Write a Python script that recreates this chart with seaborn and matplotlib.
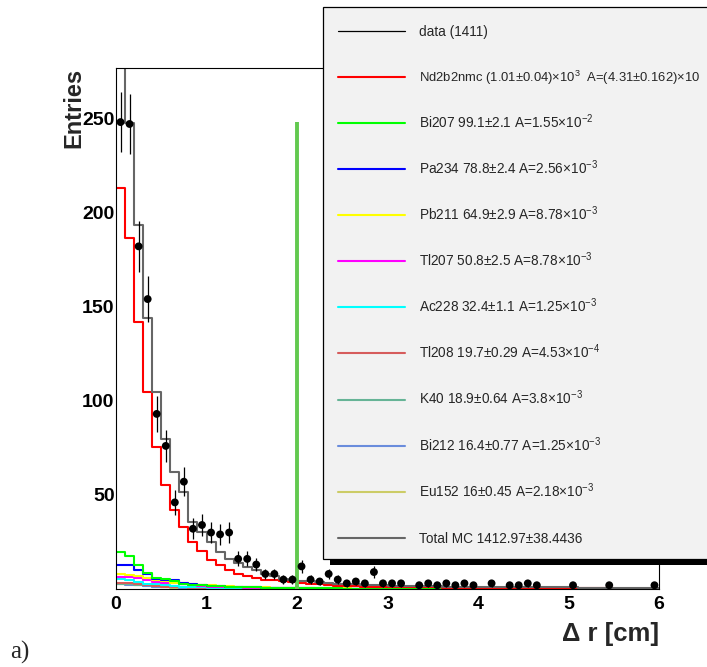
import numpy as np
import pandas as pd
import matplotlib
matplotlib.use("Agg")
import matplotlib.pyplot as plt
import seaborn as sns
from matplotlib.patches import Rectangle
from matplotlib.lines import Line2D
from matplotlib.ticker import MultipleLocator

# ---------------- data (bins of 0.1 cm from 0 to 6) ----------------
x_min, x_max, n_bins = 0.0, 6.0, 60

data_counts = [248, 247, 182, 154, 93, 76, 46, 57, 32, 34,
               30, 29, 30, 16, 16, 13, 8, 8, 5, 5,
               12, 5, 4, 8, 5, 3, 4, 3, 9, 3,
               3, 3, 0, 2, 3, 2, 3, 2, 3, 2,
               0, 3, 0, 2, 2, 3, 2, 0, 0, 0,
               2, 0, 0, 0, 2, 0, 0, 0, 0, 2]

total_mc = [285, 247.5, 193.4, 144, 104.8, 79.6, 61.9, 51.3, 35.6, 30.3,
            24.7, 19.7, 16.2, 14.0, 11.7, 9.9, 8.2, 6.8, 5.5, 4.6,
            4.4, 4.0, 3.6, 3.2, 2.9, 2.6, 2.4, 2.2, 2.0, 1.9,
            1.8, 1.7, 1.6, 1.5, 1.5, 1.4, 1.3, 1.3, 1.2, 1.2,
            1.1, 1.1, 1.0, 1.0, 1.0, 0.9, 0.9, 0.9, 0.8, 0.8,
            0.8, 0.7, 0.7, 0.7, 0.7, 0.6, 0.6, 0.6, 0.6, 0.5]

nd2b2nmc = [213, 186.4, 142, 104.8, 75.2, 55.2, 41.9, 32.7, 25.0, 20.2,
            15.6, 13.0, 10.3, 8.2, 6.8, 6.0, 5.0, 4.6, 4.3, 3.7,
            3.0, 2.8, 2.4, 2.0, 1.7, 1.5, 1.4, 1.3, 1.2, 1.1,
            1.0, 1.0, 0.9, 0.9, 0.8, 0.8, 0.7, 0.7, 0.7, 0.6,
            0.6, 0.6, 0.5, 0.5, 0.5, 0.5, 0.4, 0.4, 0.4, 0.4,
            0.3, 0.3, 0.3, 0.3, 0.3, 0.2, 0.2, 0.2, 0.2, 0.2]

bi207 = [19.7, 17.4, 13.0, 8.7, 6.0, 5.2, 4.1, 2.9, 2.3, 1.9,
         1.7, 1.5, 1.3, 1.1, 0.9, 0.8, 0.7, 0.6, 0.5, 0.5,
         0.4, 0.4, 0.3, 0.3, 0.3, 0.2, 0.2, 0.2, 0.2, 0.2,
         0.2, 0.2, 0.1, 0.1, 0.1, 0.1, 0.1, 0.1, 0.1, 0.1,
         0.1, 0.1, 0.1, 0.1, 0.1, 0.1, 0.1, 0.1, 0.1, 0.1,
         0.1, 0.1, 0.1, 0.1, 0.1, 0.1, 0.1, 0.1, 0.1, 0.1]

pa234 = [13.0, 13.0, 10.3, 8.2, 5.5, 4.6, 4.6, 3.2, 2.4, 2.0,
         1.7, 1.4, 1.2, 1.0, 0.9, 0.8, 0.7, 0.6, 0.5, 0.5,
         0.4, 0.4, 0.3, 0.3, 0.2, 0.2, 0.2, 0.2, 0.1, 0.1,
         0.1, 0.1, 0.1, 0.1, 0.0, 0.0, 0.0, 0.0, 0.0, 0.0,
         0.0, 0.0, 0.0, 0.0, 0.0, 0.0, 0.0, 0.0, 0.0, 0.0,
         0.0, 0.0, 0.0, 0.0, 0.0, 0.0, 0.0, 0.0, 0.0, 0.0]

pb211 = [8.2, 7.5, 6.9, 6.0, 4.8, 4.0, 3.4, 3.0, 2.6, 2.2,
         1.9, 1.6, 1.4, 1.2, 1.0, 0.9, 0.8, 0.7, 0.6, 0.5,
         0.5, 0.4, 0.4, 0.3, 0.3, 0.3, 0.2, 0.2, 0.2, 0.2,
         0.2, 0.1, 0.1, 0.1, 0.1, 0.1, 0.1, 0.1, 0.1, 0.1,
         0.1, 0.1, 0.1, 0.1, 0.1, 0.1, 0.1, 0.1, 0.1, 0.1,
         0.1, 0.1, 0.1, 0.1, 0.1, 0.0, 0.0, 0.0, 0.0, 0.0]

tl207 = [6.6, 6.2, 5.6, 4.7, 3.8, 3.0, 3.0, 2.6, 2.0, 1.6,
         1.3, 1.1, 0.9, 0.8, 0.7, 0.6, 0.5, 0.4, 0.4, 0.3,
         0.3, 0.3, 0.2, 0.2, 0.2, 0.2, 0.2, 0.2, 0.1, 0.1,
         0.1, 0.1, 0.1, 0.1, 0.1, 0.1, 0.1, 0.1, 0.1, 0.1,
         0.1, 0.1, 0.1, 0.1, 0.1, 0.1, 0.1, 0.1, 0.1, 0.1,
         0.0, 0.0, 0.0, 0.0, 0.0, 0.0, 0.0, 0.0, 0.0, 0.0]

ac228 = [5.5, 4.6, 3.7, 2.9, 2.4, 1.9, 1.5, 1.2, 1.0, 0.8,
         0.7, 0.6, 0.5, 0.4, 0.4, 0.3, 0.3, 0.3, 0.2, 0.2,
         0.2, 0.2, 0.1, 0.1, 0.1, 0.1, 0.1, 0.1, 0.1, 0.1,
         0.1, 0.1, 0.1, 0.1, 0.1, 0.1, 0.1, 0.1, 0.1, 0.1,
         0.1, 0.1, 0.1, 0.1, 0.1, 0.1, 0.0, 0.0, 0.0, 0.0,
         0.0, 0.0, 0.0, 0.0, 0.0, 0.0, 0.0, 0.0, 0.0, 0.0]

tl208 = [3.4, 3.0, 2.4, 1.9, 1.5, 1.2, 1.0, 0.8, 0.6, 0.5,
         0.4, 0.35, 0.3, 0.25, 0.2, 0.2, 0.1, 0.1, 0.1, 0.1,
         0.1, 0.1, 0.1, 0.1, 0.1, 0.1, 0.1, 0.1, 0.1, 0.1,
         0.1, 0.1, 0.1, 0.0, 0.0, 0.0, 0.0, 0.0, 0.0, 0.0,
         0.0, 0.0, 0.0, 0.0, 0.0, 0.0, 0.0, 0.0, 0.0, 0.0,
         0.0, 0.0, 0.0, 0.0, 0.0, 0.0, 0.0, 0.0, 0.0, 0.0]

k40 = [2.8, 2.7, 2.3, 1.9, 1.5, 1.2, 1.0, 0.8, 0.6, 0.5,
       0.4, 0.35, 0.3, 0.25, 0.2, 0.2, 0.1, 0.1, 0.1, 0.1,
       0.1, 0.1, 0.1, 0.1, 0.1, 0.1, 0.1, 0.1, 0.1, 0.1,
       0.1, 0.1, 0.1, 0.1, 0.1, 0.0, 0.0, 0.0, 0.0, 0.0,
       0.0, 0.0, 0.0, 0.0, 0.0, 0.0, 0.0, 0.0, 0.0, 0.0,
       0.0, 0.0, 0.0, 0.0, 0.0, 0.0, 0.0, 0.0, 0.0, 0.0]

bi212 = [2.4, 2.3, 2.0, 1.6, 1.3, 1.0, 0.8, 0.7, 0.5, 0.4,
         0.35, 0.3, 0.25, 0.2, 0.2, 0.1, 0.1, 0.1, 0.1, 0.1,
         0.1, 0.1, 0.1, 0.1, 0.1, 0.1, 0.1, 0.1, 0.1, 0.1,
         0.1, 0.1, 0.1, 0.1, 0.1, 0.1, 0.0, 0.0, 0.0, 0.0,
         0.0, 0.0, 0.0, 0.0, 0.0, 0.0, 0.0, 0.0, 0.0, 0.0,
         0.0, 0.0, 0.0, 0.0, 0.0, 0.0, 0.0, 0.0, 0.0, 0.0]

eu152 = [2.7, 2.6, 2.1, 1.6, 1.2, 0.9, 0.7, 0.55, 0.45, 0.35,
         0.3, 0.25, 0.2, 0.2, 0.15, 0.15, 0.1, 0.1, 0.1, 0.1,
         0.1, 0.1, 0.1, 0.1, 0.1, 0.1, 0.1, 0.1, 0.1, 0.1,
         0.1, 0.0, 0.0, 0.0, 0.0, 0.0, 0.0, 0.0, 0.0, 0.0,
         0.0, 0.0, 0.0, 0.0, 0.0, 0.0, 0.0, 0.0, 0.0, 0.0,
         0.0, 0.0, 0.0, 0.0, 0.0, 0.0, 0.0, 0.0, 0.0, 0.0]

cut_position = 2.0
cut_height = 248

legend_labels = [
    "data (1411)",
    "Nd2b2nmc (1.01\u00b10.04)\u00d710$^{3}$  A=(4.31\u00b10.162)\u00d710",
    "Bi207 99.1\u00b12.1 A=1.55\u00d710$^{-2}$",
    "Pa234 78.8\u00b12.4 A=2.56\u00d710$^{-3}$",
    "Pb211 64.9\u00b12.9 A=8.78\u00d710$^{-3}$",
    "Tl207 50.8\u00b12.5 A=8.78\u00d710$^{-3}$",
    "Ac228 32.4\u00b11.1 A=1.25\u00d710$^{-3}$",
    "Tl208 19.7\u00b10.29 A=4.53\u00d710$^{-4}$",
    "K40 18.9\u00b10.64 A=3.8\u00d710$^{-3}$",
    "Bi212 16.4\u00b10.77 A=1.25\u00d710$^{-3}$",
    "Eu152 16\u00b10.45 A=2.18\u00d710$^{-3}$",
    "Total MC 1412.97\u00b138.4436",
]
legend_colors = ["#000000", "#ff0000", "#00ff00", "#0000ff", "#ffff00", "#ff00ff",
                 "#00ffff", "#d65c5c", "#66b496", "#6a8cdc", "#cccc66", "#666666"]

x_ticks = [0, 1, 2, 3, 4, 5, 6]
y_ticks = [50, 100, 150, 200, 250]

# ---------------- style ----------------
sns.set_style("white")
plt.rcParams["font.family"] = ["Liberation Sans", "DejaVu Sans"]
plt.rcParams["mathtext.fontset"] = "custom"
plt.rcParams["mathtext.rm"] = "Liberation Sans"
plt.rcParams["mathtext.it"] = "Liberation Sans:italic"
plt.rcParams["mathtext.bf"] = "Liberation Sans:bold"

W, H = 707, 667
fig = plt.figure(figsize=(W / 100, H / 100), dpi=100)
fig.patch.set_facecolor("white")
ax = fig.add_axes([116 / W, 1 - 589 / H, (659 - 116) / W, (589 - 67.5) / H])
ax.set_facecolor("white")

edges = np.linspace(x_min, x_max, n_bins + 1)
centers = 0.5 * (edges[:-1] + edges[1:])

# MC histograms (components first, then signal and total)
hist_series = [eu152, bi212, k40, tl208, ac228, tl207, pb211, pa234, bi207, nd2b2nmc, total_mc]
hist_colors = [legend_colors[10], legend_colors[9], legend_colors[8], legend_colors[7],
               legend_colors[6], legend_colors[5], legend_colors[4], legend_colors[3],
               legend_colors[2], legend_colors[1], legend_colors[11]]
for vals, col in zip(hist_series, hist_colors):
    df = pd.DataFrame({"dr": centers, "w": np.asarray(vals, float)})
    sns.histplot(data=df, x="dr", weights="w", bins=list(edges), element="step",
                 fill=False, color=col, linewidth=1.5, ax=ax, zorder=2)

# cut line
ax.vlines(cut_position, 0, cut_height, color="#62c94f", linewidth=2.8, zorder=3)

# data points with sqrt(N) errors
d = np.asarray(data_counts, float)
m = d > 0
ax.errorbar(centers[m], d[m], yerr=np.sqrt(d[m]), fmt="none", ecolor="black",
            elinewidth=0.9, capsize=0, zorder=4)
sns.scatterplot(x=centers[m], y=d[m], color="black", s=32, edgecolor="none",
                ax=ax, zorder=5, legend=False)

# axes
ax.set_xlim(x_min, x_max)
ax.set_ylim(0, 277)
ax.set_xticks(x_ticks)
ax.set_yticks(y_ticks)
ax.xaxis.set_minor_locator(MultipleLocator(0.2))
ax.yaxis.set_minor_locator(MultipleLocator(10))
ax.tick_params(which="major", direction="in", length=11.3, width=0.7, colors="black",
               top=False, right=False, labelsize=14)
ax.tick_params(which="minor", direction="in", length=5.8, width=0.7, colors="black",
               top=False, right=False)
ax.tick_params(axis="x", pad=5.0)
ax.tick_params(axis="y", pad=1.0)
for lab in ax.get_xticklabels() + ax.get_yticklabels():
    lab.set_fontweight("bold")
for sp in ax.spines.values():
    sp.set_visible(True)
    sp.set_color("black")
    sp.set_linewidth(0.8)

ax.set_xlabel("\u0394 r [cm]", fontsize=18.5, fontweight="bold", loc="right")
ax.xaxis.set_label_coords(1.0, -0.063)
ax.set_ylabel("Entries", fontsize=17, fontweight="bold", loc="top")
ax.yaxis.set_label_coords(-0.057, 1.0)

# legend box (ROOT style with shadow)
def fx(px):
    return px / W

def fy(py):
    return 1 - py / H

shadow = Rectangle((fx(330), fy(565)), fx(760) - fx(330), fy(14) - fy(565),
                   transform=fig.transFigure, facecolor="black", edgecolor="none", zorder=10)
box = Rectangle((fx(323), fy(559)), fx(760) - fx(323), fy(7) - fy(559),
                transform=fig.transFigure, facecolor="#f2f2f2", edgecolor="black",
                linewidth=0.9, zorder=11)
fig.add_artist(shadow)
fig.add_artist(box)

for i, (lab, col) in enumerate(zip(legend_labels, legend_colors)):
    yc = 30.7 + 46.1 * i
    lw = 0.9 if i == 0 else 1.5
    fs = 9.4 if i == 1 else 9.8
    fig.add_artist(Line2D([fx(338), fx(405)], [fy(yc), fy(yc)], transform=fig.transFigure,
                          color=col, linewidth=lw, zorder=12))
    fig.text(fx(419), fy(yc + 4.9), lab, fontsize=fs, ha="left", va="baseline", zorder=13)

fig.text(fx(10), fy(659), "a)", fontfamily=["Liberation Serif", "DejaVu Serif"],
         fontsize=18, ha="left", va="baseline")

fig.savefig("out.png", dpi=100)
